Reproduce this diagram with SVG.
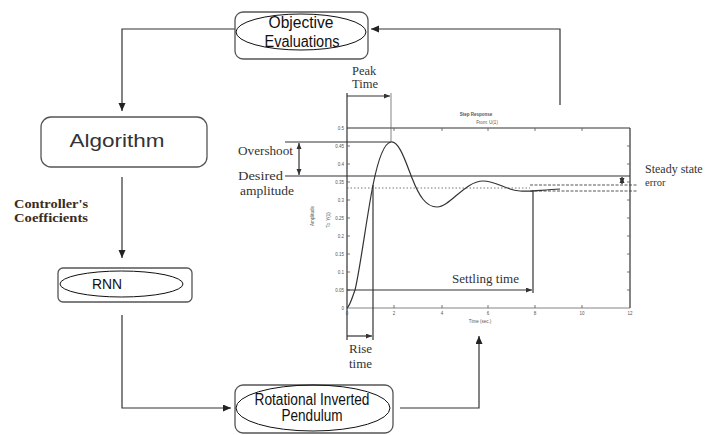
<svg xmlns="http://www.w3.org/2000/svg" width="706" height="435" viewBox="0 0 706 435">
<defs>
<marker id="ah" markerUnits="userSpaceOnUse" markerWidth="9" markerHeight="8" refX="8" refY="3.5" orient="auto">
<path d="M0,0 L8,3.5 L0,7 z" fill="#222"/>
</marker>
<marker id="sh" markerUnits="userSpaceOnUse" markerWidth="7" markerHeight="6" refX="6" refY="2.5" orient="auto">
<path d="M0,0 L6,2.5 L0,5 z" fill="#333"/>
</marker>
<marker id="sh0" markerUnits="userSpaceOnUse" markerWidth="7" markerHeight="6" refX="0" refY="2.5" orient="auto">
<path d="M6,0 L0,2.5 L6,5 z" fill="#333"/>
</marker>
<style>
.box{fill:#fff;stroke:#555;stroke-width:1.3}
.ell{fill:none;stroke:#111;stroke-width:1}
.nt{font-family:"Liberation Sans",Arial,sans-serif;fill:#111;text-anchor:middle}
.con{fill:none;stroke:#333;stroke-width:1.2}
.ser{font-family:"Liberation Serif","Times New Roman",serif;fill:#333}
.pl{fill:none;stroke:#333;stroke-width:1.2}
.thin{fill:none;stroke:#666;stroke-width:0.8}
.tk{font-family:"Liberation Sans",Arial,sans-serif;font-size:4.5px;fill:#555}
</style>
</defs>
<rect width="706" height="435" fill="#fff"/>

<g id="connectors">
<path class="con" d="M236,29 H122 V111" marker-end="url(#ah)"/>
<path class="con" d="M122,177 V258" marker-end="url(#ah)"/>
<path class="con" d="M122,315 V408 H231" marker-end="url(#ah)"/>
<path class="con" d="M400,408 H479 V336" marker-end="url(#ah)"/>
<path class="con" d="M560,105 V29 H371" marker-end="url(#ah)"/>
</g>

<g id="objective">
<rect class="box" x="235" y="12" width="133" height="47" rx="8"/>
<ellipse class="ell" cx="301" cy="32" rx="65" ry="18"/>
<text class="nt" x="301" y="28" font-size="16" textLength="65" lengthAdjust="spacingAndGlyphs">Objective</text>
<text class="nt" x="302" y="47" font-size="16" textLength="75" lengthAdjust="spacingAndGlyphs">Evaluations</text>
</g>

<g id="algorithm">
<rect class="box" x="41" y="117" width="166" height="50" rx="10"/>
<text class="nt" x="117" y="147" font-size="19" style="fill:#333" textLength="95" lengthAdjust="spacingAndGlyphs">Algorithm</text>
</g>

<text x="14" y="208" font-family="'Liberation Serif','Times New Roman',serif" font-size="12" font-weight="bold" fill="#3a2c20" textLength="74" lengthAdjust="spacingAndGlyphs">Controller's</text>
<text x="14" y="222" font-family="'Liberation Serif','Times New Roman',serif" font-size="12" font-weight="bold" fill="#3a2c20" textLength="74" lengthAdjust="spacingAndGlyphs">Coefficients</text>

<g id="rnn">
<rect class="box" x="58" y="268" width="134" height="34" rx="5"/>
<ellipse class="ell" cx="121.5" cy="284" rx="61.5" ry="13"/>
<text class="nt" x="107" y="289" font-size="15.5" textLength="30" lengthAdjust="spacingAndGlyphs">RNN</text>
</g>

<g id="pendulum">
<rect class="box" x="235" y="385" width="158" height="48" rx="8"/>
<ellipse class="ell" cx="313" cy="408" rx="77" ry="23"/>
<text class="nt" x="312" y="405" font-size="16" textLength="115" lengthAdjust="spacingAndGlyphs">Rotational Inverted</text>
<text class="nt" x="312" y="421" font-size="16" textLength="61" lengthAdjust="spacingAndGlyphs">Pendulum</text>
</g>

<g id="step-response">
<line class="pl" x1="347" y1="128" x2="630" y2="128"/>
<line class="pl" x1="630" y1="128" x2="630" y2="308"/>
<line class="thin" x1="347" y1="308" x2="630" y2="308"/>
<line class="pl" x1="347" y1="93" x2="347" y2="340"/>
<g stroke="#555" stroke-width="0.8">
<path d="M347,146h3M347,164h3M347,182h3M347,200h3M347,218h3M347,236h3M347,254h3M347,272h3M347,290h3"/>
<path d="M630,146h-3M630,164h-3M630,182h-3M630,200h-3M630,218h-3M630,236h-3M630,254h-3M630,272h-3M630,290h-3"/>
<path d="M394,128v3M442,128v3M488,128v3M535,128v3M582,128v3"/>
<path d="M394,308v-3M442,308v-3M488,308v-3M535,308v-3M582,308v-3"/>
</g>
<g class="tk" text-anchor="end">
<text x="344" y="130">0.5</text>
<text x="344" y="148">0.45</text>
<text x="344" y="166">0.4</text>
<text x="344" y="184">0.35</text>
<text x="344" y="202">0.3</text>
<text x="344" y="220">0.25</text>
<text x="344" y="238">0.2</text>
<text x="344" y="256">0.15</text>
<text x="344" y="274">0.1</text>
<text x="344" y="292">0.05</text>
<text x="344" y="310">0</text>
</g>
<g class="tk" text-anchor="middle">
<text x="347" y="315">0</text>
<text x="394" y="315">2</text>
<text x="442" y="315">4</text>
<text x="488" y="315">6</text>
<text x="535" y="315">8</text>
<text x="582" y="315">10</text>
<text x="630" y="315">12</text>
<text x="480" y="323">Time (sec.)</text>
<text x="476" y="116" font-weight="bold">Step Response</text>
<text x="487" y="124">From: U(1)</text>
<text transform="translate(314,216) rotate(-90)">Amplitude</text>
<text transform="translate(330,220) rotate(-90)">To: Y(1)</text>
</g>
<line class="pl" x1="285" y1="142" x2="391" y2="142"/>
<line class="pl" x1="285" y1="176" x2="630" y2="176"/>
<line x1="347" y1="188" x2="530" y2="188" stroke="#555" stroke-width="0.8" stroke-dasharray="1.5,2"/>
<line x1="530" y1="185" x2="638" y2="185" stroke="#444" stroke-width="0.9" stroke-dasharray="3,1.5"/>
<line x1="530" y1="191" x2="638" y2="191" stroke="#444" stroke-width="0.9" stroke-dasharray="3,1.5"/>
<path class="pl" stroke-width="1.3" d="M347,308 C350,306 352,298 355,290 C360,270 367,215 373,185 C378,160 384,143 391,142 C399,141 405,160 412,178 C419,196 426,207 437,207 C450,207 465,181 483,181 C497,181 505,190 520,191 C530,192 540,190 560,189"/>
<line class="thin" x1="391" y1="93" x2="391" y2="142"/>
<line class="pl" x1="347" y1="96" x2="390" y2="96" marker-end="url(#sh)"/>
<line class="pl" x1="299" y1="143" x2="299" y2="175" marker-start="url(#sh0)" marker-end="url(#sh)"/>
<line class="pl" stroke-width="1.5" x1="373" y1="185" x2="373" y2="340"/>
<line class="pl" x1="347" y1="336" x2="372" y2="336" marker-end="url(#sh)"/>
<line class="pl" stroke-width="1.5" x1="533" y1="190" x2="533" y2="293"/>
<line class="pl" x1="347" y1="290" x2="532" y2="290" marker-end="url(#sh)"/>
<line class="pl" stroke-width="1" x1="622" y1="177" x2="622" y2="184" marker-start="url(#sh0)" marker-end="url(#sh)"/>
<text class="ser" x="352" y="75" font-size="12.5">Peak</text>
<text class="ser" x="352" y="88" font-size="12.5">Time</text>
<text class="ser" x="238" y="155" font-size="13" textLength="55" lengthAdjust="spacingAndGlyphs">Overshoot</text>
<text class="ser" x="238" y="180" font-size="13" textLength="45" lengthAdjust="spacingAndGlyphs">Desired</text>
<text class="ser" x="240" y="195" font-size="13" textLength="54" lengthAdjust="spacingAndGlyphs">amplitude</text>
<text class="ser" x="349" y="353" font-size="13">Rise</text>
<text class="ser" x="349" y="368" font-size="13">time</text>
<text class="ser" x="452" y="283" font-size="13.5" textLength="67" lengthAdjust="spacingAndGlyphs">Settling time</text>
<text class="ser" x="645" y="173" font-size="12">Steady state</text>
<text class="ser" x="645" y="186" font-size="10.5">error</text>
</g>
</svg>
